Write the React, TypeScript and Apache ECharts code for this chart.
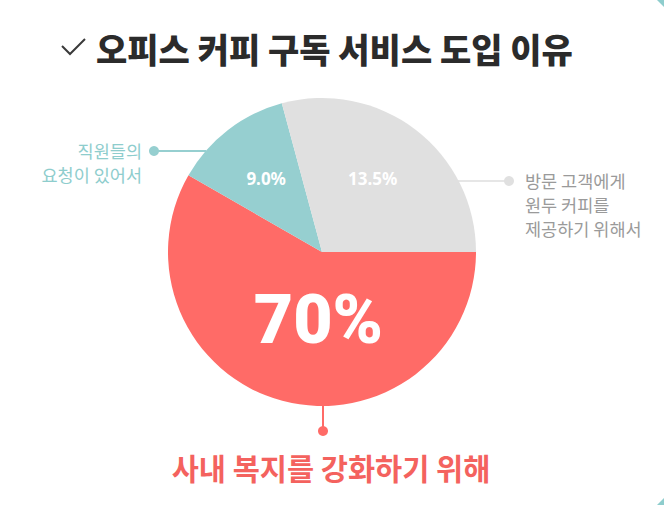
import React, { useEffect, useRef } from "react";
import * as echarts from "echarts";

// Reasons for adopting an office coffee subscription service
const CATEGORIES = ["사내 복지를 강화하기 위해", "직원들의 요청이 있어서", "방문 고객에게 원두 커피를 제공하기 위해서"];
// slice sizes as drawn in the picture (angular share)
const SLICE_VALUES = [58.3, 12.5, 29.2];
// percent labels printed on the slices
const SLICE_LABELS = ["70%", "9.0%", "13.5%"];
const COLORS = ["#FF6B67", "#96CFD0", "#E0E0E0"];
const LABEL_SIZES = [68, 17, 17];
const LABEL_FONTS = ["Roboto", "Noto Sans", "Noto Sans"];
const LABEL_SHIFT: number[][] = [[17, -9], [-7, -10], [2, -10]];

const TITLE = "오피스 커피 구독 서비스 도입 이유";
const CALLOUT_TEAL = "직원들의\n요청이 있어서";
const CALLOUT_GRAY = "방문 고객에게\n원두 커피를\n제공하기 위해서";
const CALLOUT_RED = "사내 복지를 강화하기 위해";

const KR = "'Noto Sans CJK KR', 'Noto Sans', sans-serif";

export default function App() {
  const ref = useRef<HTMLDivElement>(null);
  useEffect(() => {
    document.body.style.margin = "0";
    const chart = echarts.init(ref.current!, null, { renderer: "svg" });
    chart.setOption({
      animation: false,
      backgroundColor: "#ffffff",
      series: [
        {
          type: "pie",
          center: [322, 252],
          radius: [0, 154],
          startAngle: 0,
          clockwise: true,
          silent: true,
          label: {
            show: true,
            position: "inside",
            color: "#ffffff",
            fontWeight: "bold",
          },
          labelLine: { show: false },
          labelLayout: (p: any) => ({
            dx: LABEL_SHIFT[p.dataIndex][0],
            dy: LABEL_SHIFT[p.dataIndex][1],
          }),
          data: CATEGORIES.map((name, i) => ({
            name,
            value: SLICE_VALUES[i],
            itemStyle: { color: COLORS[i] },
            label: {
              formatter: SLICE_LABELS[i],
              fontSize: LABEL_SIZES[i],
              fontFamily: LABEL_FONTS[i],
              fontWeight: i === 0 ? 900 : "bold",
            },
          })),
        },
      ],
      graphic: [
        {
          type: "polyline",
          shape: { points: [[62, 46], [70, 54], [85, 39]] },
          style: { stroke: "#3a3a3a", lineWidth: 2, fill: null },
        },
        {
          type: "text",
          x: 96,
          y: 48,
          style: {
            text: TITLE,
            fontSize: 34,
            fontWeight: 900,
            fontFamily: KR,
            fill: "#2b2b2b",
            verticalAlign: "middle",
            align: "left",
          },
        },
        // teal callout
        {
          type: "line",
          shape: { x1: 154, y1: 151, x2: 206, y2: 151 },
          style: { stroke: "#96CFD0", lineWidth: 2 },
        },
        { type: "circle", shape: { cx: 154, cy: 151, r: 5 }, style: { fill: "#96CFD0" } },
        {
          type: "text",
          x: 142,
          y: 138,
          style: {
            text: CALLOUT_TEAL,
            fontSize: 17.5,
            lineHeight: 24,
            fontFamily: KR,
            fill: "#8ECDCD",
            align: "right",
            verticalAlign: "top",
          },
        },
        // gray callout
        {
          type: "line",
          shape: { x1: 437, y1: 181, x2: 509, y2: 181 },
          style: { stroke: "#E6E6E6", lineWidth: 2 },
        },
        { type: "circle", shape: { cx: 509, cy: 181, r: 5 }, style: { fill: "#E0E0E0" } },
        {
          type: "text",
          x: 525,
          y: 168,
          style: {
            text: CALLOUT_GRAY,
            fontSize: 17.5,
            lineHeight: 24,
            fontFamily: KR,
            fill: "#9A9A9A",
            align: "left",
            verticalAlign: "top",
          },
        },
        // red callout
        {
          type: "line",
          shape: { x1: 323, y1: 405, x2: 323, y2: 431 },
          style: { stroke: "#FF6B67", lineWidth: 2 },
        },
        { type: "circle", shape: { cx: 323, cy: 431, r: 5 }, style: { fill: "#FF6B67" } },
        {
          type: "text",
          x: 331,
          y: 467,
          style: {
            text: CALLOUT_RED,
            fontSize: 29.5,
            fontWeight: "bold",
            fontFamily: KR,
            fill: "#F4625E",
            align: "center",
            verticalAlign: "middle",
          },
        },
        // corner decorations
        { type: "polygon", shape: { points: [[657, 0], [664, 0], [664, 7]] }, style: { fill: "#8ECDCD" } },
        { type: "polygon", shape: { points: [[664, 498], [664, 505], [657, 505]] }, style: { fill: "#8ECDCD" } },
      ],
    });
    return () => chart.dispose();
  }, []);
  return <div ref={ref} style={{ width: 664, height: 505 }} />;
}
